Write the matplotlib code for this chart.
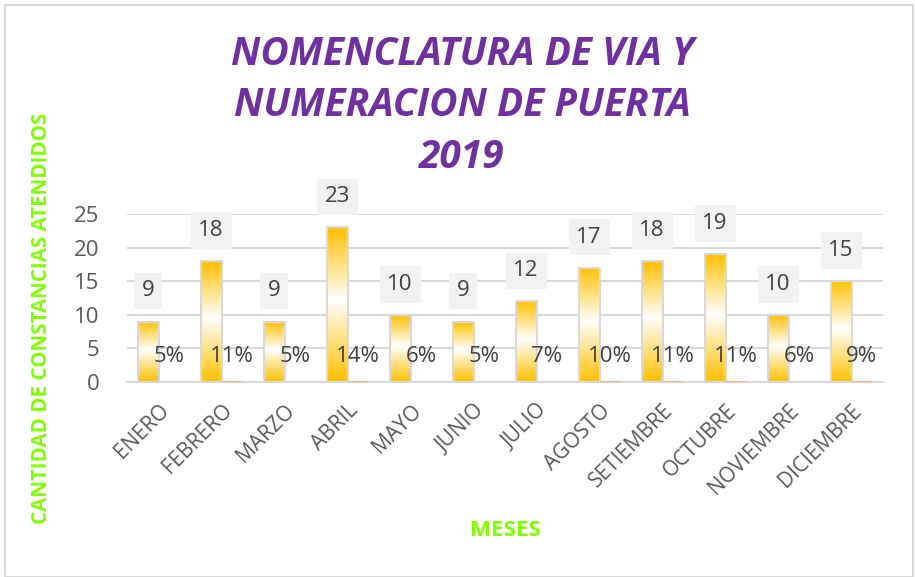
import matplotlib
matplotlib.use("Agg")
import matplotlib.pyplot as plt
import numpy as np
from matplotlib.colors import LinearSegmentedColormap
from matplotlib.patches import Rectangle

plt.rcParams["font.family"] = ["Open Sans", "DejaVu Sans"]

meses = ["ENERO", "FEBRERO", "MARZO", "ABRIL", "MAYO", "JUNIO", "JULIO",
         "AGOSTO", "SETIEMBRE", "OCTUBRE", "NOVIEMBRE", "DICIEMBRE"]
cantidad = [9, 18, 9, 23, 10, 9, 12, 17, 18, 19, 10, 15]
porcentaje = [5, 11, 5, 14, 6, 5, 7, 10, 11, 11, 6, 9]
title = "NOMENCLATURA DE VIA Y\nNUMERACION DE PUERTA\n2019"
ylabel = "CANTIDAD DE CONSTANCIAS ATENDIDOS"
xlabel = "MESES"
yticks = [0, 5, 10, 15, 20, 25]

fig = plt.figure(figsize=(9.15, 5.77), dpi=100)
W, H = 915, 577
ax = fig.add_axes([127 / W, 1 - 382 / H, (883 - 127) / W, (382 - 214) / H])

x = np.arange(len(meses))
bw = 0.33
bars = ax.bar(x - bw / 2, cantidad, width=bw, facecolor="none",
              edgecolor="#D9D9D9", linewidth=1.5, zorder=3)
ax.bar(x + bw / 2, [p / 100 for p in porcentaje], width=bw,
       color="#F4B183", zorder=3)

cmap = LinearSegmentedColormap.from_list(
    "g", [(0, "#FFC000"), (0.47, "#FFFFFF"), (1.0, "#FFC000")])
grad = np.linspace(0, 1, 256).reshape(-1, 1)
for b in bars:
    x0, y0 = b.get_x(), b.get_y()
    w, h = b.get_width(), b.get_height()
    im = ax.imshow(grad, cmap=cmap, aspect="auto", origin="upper",
                   extent=[x0, x0 + w, y0, y0 + h], zorder=2)
    im.set_clip_path(b)

ax.set_xlim(-0.5, len(meses) - 0.5)
ax.set_ylim(0, 25)
ax.set_yticks(yticks)
ax.yaxis.grid(True, color="#D9D9D9", linewidth=1.5, zorder=0)
ax.set_axisbelow(True)
for s in ["top", "right", "left"]:
    ax.spines[s].set_visible(False)
ax.spines["bottom"].set_color("#D9D9D9")
ax.spines["bottom"].set_linewidth(1.5)
ax.tick_params(length=0)
ax.tick_params(axis="y", labelsize=16, labelcolor="#595959", pad=20)
ax.set_xticks(x)
ax.set_xticklabels(meses, rotation=45, ha="right", rotation_mode="anchor",
                   fontsize=15, color="#595959")
ax.tick_params(axis="x", pad=13)

for xi, v in zip(x, cantidad):
    ax.annotate(str(v), (xi - bw / 2, v), xytext=(0, 22), textcoords="offset points",
                ha="center", va="center", fontsize=16, color="#404040",
                bbox=dict(boxstyle="square,pad=0.35", fc="#F2F2F2", ec="none"),
                zorder=5)
for xi, p in zip(x, porcentaje):
    ax.annotate(f"{p}%", (xi + bw / 2, p / 100), xytext=(0, 18), textcoords="offset points",
                ha="center", va="center", fontsize=16, color="#404040", zorder=5)

fig.text(0.505, 1 - 106 / H, title, ha="center", va="center", fontsize=28,
         fontweight="bold", fontstyle="italic", color="#7030A0",
         linespacing=1.43)
fig.text(42 / W, 1 - 318 / H, ylabel, rotation=90, ha="center", va="center",
         fontsize=14.8, fontweight="bold", color="#7FFF00")
fig.text(505 / W, 1 - 530 / H, xlabel, ha="center", va="center",
         fontsize=16, fontweight="bold", color="#7FFF00")

fig.patches.append(Rectangle((5 / W, 0), 908 / W, 1 - 5 / H, transform=fig.transFigure,
                             fill=False, edgecolor="#D9D9D9", linewidth=1.5))

fig.savefig("out.png", dpi=100)
